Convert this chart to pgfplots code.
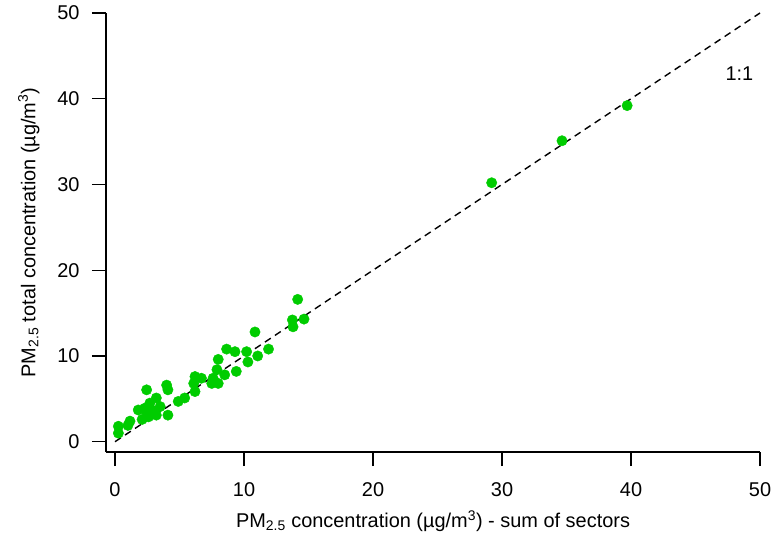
\documentclass[border=0pt]{standalone}
\usepackage{fontspec}
\setmainfont{Liberation Sans}
\usepackage{pgfplots}
\pgfplotsset{compat=1.18}
\definecolor{ptgreen}{RGB}{0,204,0}

\begin{document}
\begin{tikzpicture}
\begin{axis}[
    name=ax,
    scale only axis,
    width=654bp, height=439bp,
    xmin=-0.7, xmax=50, ymin=-1.2, ymax=50,
    axis lines*=left,
    axis line style={line width=1.4bp},
    tick style={line width=1.2bp, black},
    tick align=outside,
    major tick length=14bp,
    xtick={0,10,...,50}, ytick={0,10,...,50},
    tick label style={font=\fontsize{20}{22}\selectfont},
    yticklabel style={xshift=-9bp},
    xticklabel style={yshift=-13bp},
    /pgf/number format/assume math mode=true,
    label style={font=\fontsize{20}{22}\selectfont},
    xlabel={PM\textsubscript{2.5} concentration (µg/m\textsuperscript{3}) - sum of sectors},
    ylabel={PM\textsubscript{2.5} total concentration (µg/m\textsuperscript{3})},
    xlabel style={yshift=-7bp},
    ylabel style={yshift=11bp},
    clip=false,
]
\addplot[black, line width=1.4bp, dash pattern=on 7bp off 5bp] coordinates {(0,0) (50,50)};
\addplot[only marks, mark=*, mark size=5.2bp, color=ptgreen, mark options={draw=ptgreen, fill=ptgreen}] coordinates {
(14.16,16.6) (14.65,14.3) (13.75,14.2) (13.8,13.4) (10.85,12.8) (11.9,10.8)
(11.06,10.0) (10.2,10.5) (10.3,9.3) (8.65,10.8) (9.3,10.5) (8.0,9.6)
(9.4,8.2) (8.5,7.8) (7.9,8.4) (7.6,7.4) (8.0,6.8) (7.5,6.8)
(6.2,7.6) (6.7,7.4) (6.1,6.8) (6.2,5.85) (5.4,5.1) (4.9,4.7)
(4.0,6.6) (4.1,6.05) (2.45,6.05) (3.2,5.1) (2.7,4.5) (1.8,3.7)
(2.3,3.9) (3.5,4.1) (4.1,3.1) (3.2,3.1) (2.6,2.9) (1.16,2.4)
(0.26,1.8) (0.26,1.0) (2.1,2.6) (3.0,3.6) (1.0,1.9) (2.5,3.3)
(29.2,30.2) (34.65,35.1) (39.7,39.2)
};
\node[font=\fontsize{20}{22}\selectfont] at (axis cs:48.4,42.9) {1:1};
\end{axis}
\pgfresetboundingbox
\path ([xshift=-106bp,yshift=-88bp]ax.south west) rectangle ([xshift=13bp,yshift=13bp]ax.north east);
\end{tikzpicture}
\end{document}
